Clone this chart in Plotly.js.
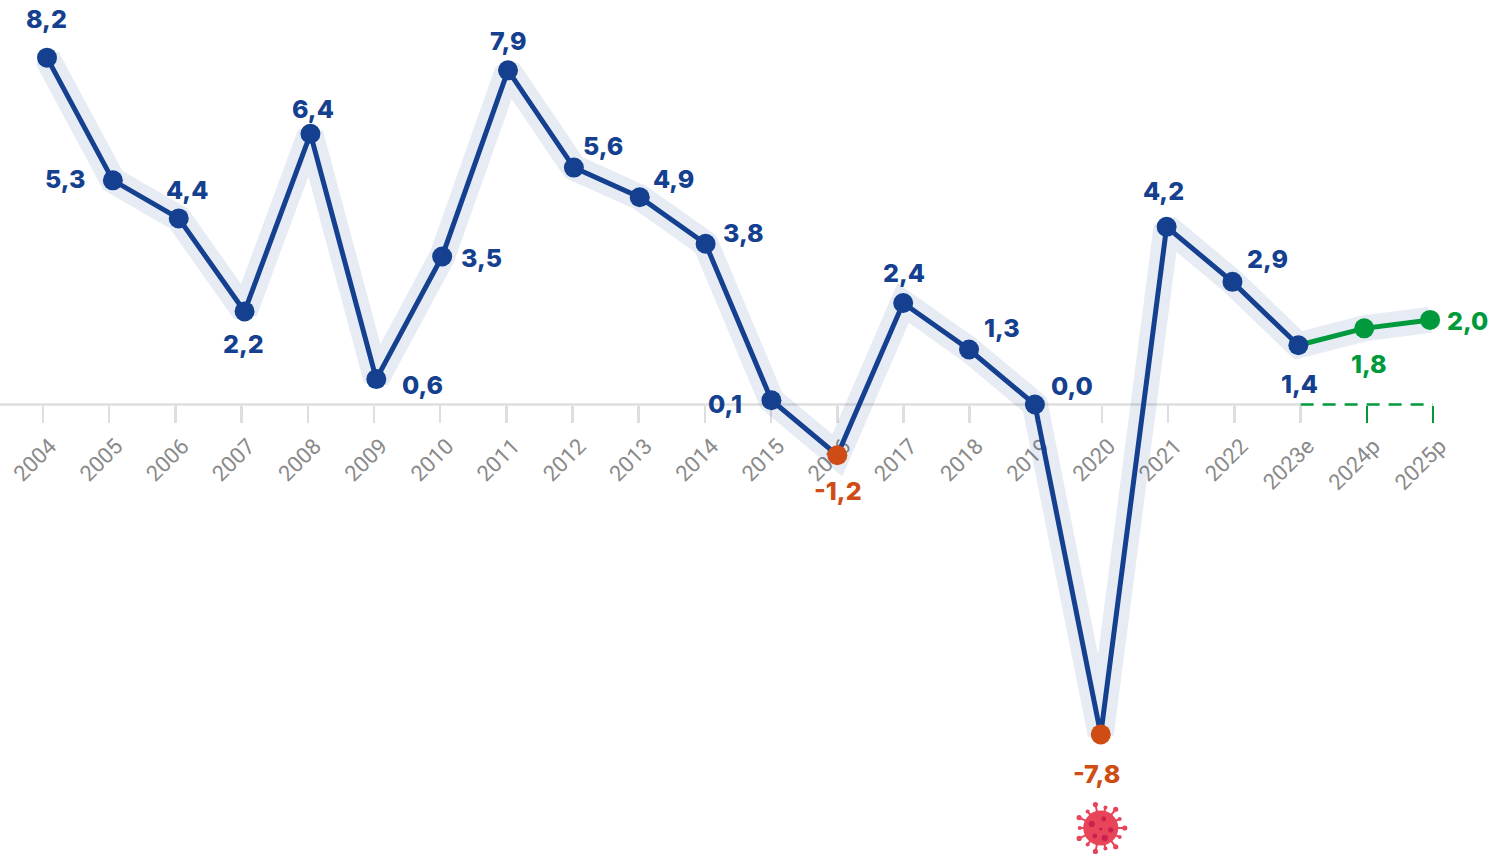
<!DOCTYPE html>
<html><head><meta charset="utf-8">
<script src="https://cdn.plot.ly/plotly-3.0.1.min.js"></script>
<style>html,body{margin:0;padding:0;background:#fff}#c{width:1500px;height:855px}</style>
</head><body><div id="c"></div>
<script>
const years=['2004','2005','2006','2007','2008','2009','2010','2011','2012','2013','2014','2015','2016','2017','2018','2019','2020','2021','2022','2023e','2024p','2025p'];
const values=[8.2,5.3,4.4,2.2,6.4,0.6,3.5,7.9,5.6,4.9,3.8,0.1,-1.2,2.4,1.3,0.0,-7.8,4.2,2.9,1.4,1.8,2.0];
const valueLabels=['8,2','5,3','4,4','2,2','6,4','0,6','3,5','7,9','5,6','4,9','3,8','0,1','-1,2','2,4','1,3','0,0','-7,8','4,2','2,9','1,4','1,8','2,0'];
const BLUE='#14408f',GREEN='#009a3d',RED='#cf4c14';
const pointColors=values.map((v,i)=>i>=20?GREEN:(v<0?RED:BLUE));
const labelDx=[-1,-48,8,-1,3,46,39,0,29,34,38,-46,1,1,33,37,-4,-3,35,1,5,37];
const labelDy=[-39,-1,-28,33,-25,6,2,-29,-22,-18,-11,4,36,-30,-22,-19,40,-36,-23,39,36,1];
const idx=years.map((_,i)=>i);
const H=855,Z=404.5,S=42.3;
const yr=[(Z-H)/S,Z/S];
const tickRange=[-43/66.19,(1500-43)/66.19];
const ptRange=[-47/65.86,(1500-47)/65.86];
const axisPos=(H-Z)/H;
const base={showgrid:false,zeroline:false,type:'linear',fixedrange:true,layer:'below traces'};
const traces=[
 {x:[tickRange[0],19],y:[0,0],xaxis:'x',mode:'lines',line:{color:'#dedede',width:2.5},hoverinfo:'skip'},
 {x:[19,21],y:[0,0],xaxis:'x2',mode:'lines',line:{color:GREEN,width:2.5,dash:'13px,9px'},hoverinfo:'skip'},
 {x:idx,y:values,xaxis:'x3',mode:'lines',line:{color:'rgba(20,64,143,0.1)',width:26,shape:'linear'},hoverinfo:'skip'},
 {x:idx.slice(0,20),y:values.slice(0,20),xaxis:'x3',mode:'lines',line:{color:BLUE,width:5}},
 {x:idx.slice(19),y:values.slice(19),xaxis:'x3',mode:'lines',line:{color:GREEN,width:5}},
 {x:idx,y:values,xaxis:'x3',mode:'markers',marker:{size:20,color:pointColors}}
];
// virus icon
let sp='';
for(let k=0;k<14;k++){const a=k*2*Math.PI/14,r=(k%2?21:24);const c=Math.cos(a),s=Math.sin(a);
 sp+=`<line x1="${30+14*c}" y1="${30+14*s}" x2="${30+r*c}" y2="${30+r*s}" stroke="#e8445a" stroke-width="2"/><circle cx="${30+r*c}" cy="${30+r*s}" r="${k%2?2:2.6}" fill="#e8445a"/>`;}
const dots=[[21,26,3],[33,21,2.4],[40,32,2.6],[34,40,3.2],[24,38,2.4],[30,31,1.6]];
const svg=`<svg xmlns="http://www.w3.org/2000/svg" width="60" height="60" viewBox="0 0 60 60">${sp}<circle cx="30" cy="30" r="17.5" fill="#e8445a"/>${dots.map(d=>`<circle cx="${d[0]}" cy="${d[1]}" r="${d[2]}" fill="#c9204f"/>`).join('')}</svg>`;
const annotations=values.map((v,i)=>({x:i,y:v,xref:'x3',yref:'y',text:valueLabels[i],showarrow:false,xshift:labelDx[i],yshift:-labelDy[i],
 font:{family:'Inter',size:25,weight:800,color:pointColors[i]},xanchor:'center',yanchor:'middle'}));
const layout={width:1500,height:855,margin:{l:0,r:0,t:0,b:0,pad:0},paper_bgcolor:'#fff',plot_bgcolor:'#fff',showlegend:false,
 annotations,
 xaxis:Object.assign({},base,{range:tickRange,anchor:'free',position:axisPos,tickmode:'array',tickvals:idx,ticktext:years,ticks:'outside',ticklen:17,tickwidth:2.5,tickcolor:'#dedede',showline:false,tickangle:-45,ticklabelstandoff:2,ticklabelshift:7,tickfont:{family:'Roboto',size:22,weight:400,color:'#8a8a8a'}}),
 xaxis2:Object.assign({},base,{range:tickRange,overlaying:'x',anchor:'free',position:axisPos,tickmode:'array',tickvals:[20,21],ticktext:['',''],ticks:'outside',ticklen:17,tickwidth:2.5,tickcolor:GREEN,showline:false,showticklabels:false}),
 xaxis3:Object.assign({},base,{range:ptRange,overlaying:'x',showticklabels:false,ticks:'',showline:false}),
 yaxis:{range:yr,visible:false,showgrid:false,zeroline:false,fixedrange:true},
 images:[{source:'data:image/svg+xml,'+encodeURIComponent(svg),xref:'x3',yref:'y',x:16,y:(Z-828)/S,sizex:60/65.86,sizey:60/S,xanchor:'center',yanchor:'middle',layer:'above',sizing:'stretch'}]
};
Plotly.newPlot('c',traces,layout,{displayModeBar:false,staticPlot:true});
</script></body></html>
